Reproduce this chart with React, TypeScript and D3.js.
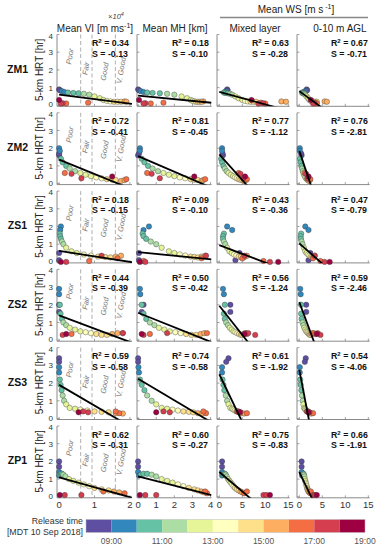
import React from "react";
import * as d3 from "d3";

// release times (hours MDT) shared by every site
const releaseTimes = [8.4, 8.8, 9.2, 9.6, 10.0, 10.4, 10.8, 11.2, 11.6, 12.0, 12.4, 12.8, 13.2, 13.6, 14.0, 14.4, 14.8, 15.2, 15.6, 16.0, 16.6, 17.2, 17.8, 18.4];

const siteNames = ["ZM1", "ZM2", "ZS1", "ZS2", "ZS3", "ZP1"];
const columnTitles = ["Mean VI [m ms", "Mean MH [km]", "Mixed layer", "0-10 m AGL"];

// ZM1
const zm1Hrt = [0.9, 0.85, 0.8, 0.75, 0.72, 0.7, 0.68, 0.65, 0.6, 0.5, 0.4, 0.3, 0.25, 0.22, 0.2, 0.2, 0.2, 0.22, 0.2, 0.15, 0.1, 0.12, 0.1, 0.3];
const zm1Vi = [0, 0.02, 0.08, 0.15, 0.25, 0.4, 0.55, 0.7, 0.85, 1.0, 1.15, 1.25, 1.35, 1.45, 1.55, 1.65, 1.75, 1.85, 1.9, 0.82, 0.2, 0.1, 0.05, 0];
const zm1Mh = [0, 0.05, 0.15, 0.3, 0.5, 0.8, 1.2, 1.6, 2.0, 2.4, 2.7, 2.9, 3.0, 3.1, 3.2, 3.3, 3.4, 3.6, 3.5, 1.4, 0.7, 0.4, 0.3, 0.05];
const zm1WsMl = [1.7, 1.8, 1.5, 1.2, 1.0, 1.3, 1.8, 2.3, 2.8, 3.5, 4.2, 5.0, 5.6, 6.2, 6.8, 7.4, 8.0, 13.5, 14.5, 9.0, 10.0, 9.5, 8.5, 7.0];
const zm1Ws10 = [1.6, 1.7, 1.3, 1.0, 0.6, 0.7, 0.9, 1.1, 1.3, 1.6, 1.9, 2.2, 2.5, 2.8, 3.1, 3.4, 3.8, 5.5, 6.0, 3.5, 3.8, 3.3, 3.0, 2.5];

// ZM2
const zm2Hrt = [1.6, 1.7, 2.0, 1.85, 1.4, 1.2, 1.0, 0.85, 0.7, 0.6, 0.5, 0.42, 0.35, 0.3, 0.25, 0.22, 0.2, 0.15, 0.2, 0.25, 0.6, 0.55, 0.3, 0.4];
const zm2Vi = [0, 0, 0, 0.02, 0.05, 0.1, 0.2, 0.3, 0.45, 0.6, 0.75, 0.9, 1.05, 1.2, 1.35, 1.5, 1.6, 1.75, 1.85, 1.9, 0.16, 0.35, 0.63, 1.5];
const zm2Mh = [0, 0.05, 0.1, 0.1, 0.2, 0.35, 0.55, 0.8, 1.1, 1.4, 1.7, 2.0, 2.3, 2.6, 2.9, 3.1, 3.3, 3.5, 3.6, 3.7, 0.5, 0.75, 1.2, 3.1];
const zm2WsMl = [0.8, 0.7, 0.6, 0.6, 0.4, 0.6, 0.9, 1.2, 1.6, 2.0, 2.5, 3.0, 3.4, 3.8, 4.2, 4.6, 5.0, 5.4, 5.8, 6.0, 4.2, 4.6, 5.2, 5.6];
const zm2Ws10 = [0.5, 0.4, 0.1, 0.1, 0.15, 0.3, 0.45, 0.6, 0.75, 0.9, 1.05, 1.2, 1.35, 1.5, 1.65, 1.8, 1.95, 2.1, 2.3, 2.4, 1.2, 1.5, 1.8, 2.0];

// ZS1
const zs1Hrt = [0.5, 0.1, 2.0, 1.8, 1.6, 1.45, 1.3, 1.15, 1.0, 0.8, 0.6, 0.5, 0.42, 0.36, 0.3, 0.28, 0.25, 0.3, 0.35, 0.2, 0.05, 0.35, 0, 0];
const zs1Vi = [0, 0, 0.05, 0.03, 0.02, 0.03, 0.05, 0.08, 0.12, 0.2, 0.35, 0.5, 0.7, 0.9, 1.1, 1.3, 1.45, 1.6, 1.75, 1.65, 0.85, 1.2, 0.2, 0.05];
const zs1Mh = [0.05, 0.05, 0.6, 0.3, 0.25, 0.3, 0.45, 0.7, 1.0, 1.3, 1.7, 2.0, 2.3, 2.6, 2.9, 3.1, 3.3, 3.5, 3.7, 3.5, 0.3, 3.75, 0.4, 0.1];
const zs1WsMl = [4.4, 3.5, 1.7, 2.8, 1.0, 0.8, 0.8, 1.0, 1.3, 1.7, 2.2, 2.7, 3.2, 3.7, 4.2, 4.7, 5.2, 5.6, 6.0, 5.0, 9.6, 5.5, 11.0, 12.8];
const zs1Ws10 = [2.4, 2.0, 1.3, 2.0, 0.4, 0.3, 0.35, 0.5, 0.7, 1.0, 1.3, 1.6, 1.9, 2.2, 2.5, 2.8, 3.0, 3.2, 3.4, 3.0, 4.6, 3.3, 5.5, 6.6];

// ZS2
const zs2Hrt = [1.6, 2.0, 2.9, 2.6, 2.0, 1.5, 1.2, 1.0, 0.85, 0.7, 0.6, 0.5, 0.45, 0.4, 0.35, 0.3, 0.3, 0.35, 0.4, 0.4, 0.35, 0.4, 0.3, 0.35];
const zs2Vi = [0, 0, 0, 0, 0.02, 0.04, 0.08, 0.12, 0.2, 0.3, 0.45, 0.6, 0.75, 0.9, 1.05, 1.2, 1.35, 1.5, 1.65, 1.8, 0.35, 1.8, 0.1, 0.2];
const zs2Mh = [0.2, 0.3, 0.1, 0.12, 0.2, 0.3, 0.45, 0.65, 0.9, 1.15, 1.45, 1.75, 2.05, 2.35, 2.65, 2.95, 3.2, 3.45, 3.65, 3.8, 0.65, 1.6, 0.3, 0.2];
const zs2WsMl = [2.4, 2.4, 0.8, 1.0, 1.2, 1.0, 1.2, 1.5, 1.9, 2.3, 2.7, 3.1, 3.5, 3.9, 4.3, 4.7, 5.0, 5.3, 5.6, 5.8, 6.0, 6.3, 7.8, 5.5];
const zs2Ws10 = [1.5, 1.5, 0.2, 0.3, 0.4, 0.4, 0.5, 0.7, 0.9, 1.1, 1.3, 1.5, 1.7, 1.9, 2.1, 2.3, 2.5, 2.7, 2.9, 3.1, 3.5, 4.0, 4.6, 3.8];

// ZS3
const zs3Hrt = [3.4, 3.2, 2.9, 2.6, 2.2, 1.9, 1.6, 1.3, 1.0, 0.8, 0.6, 0.55, 0.5, 0.45, 0.4, 0.38, 0.35, 0.3, 0.28, 0.3, 0.4, 0.35, 0.4, 0.35];
const zs3Vi = [0, 0, 0, 0, 0.02, 0.04, 0.07, 0.1, 0.14, 0.2, 0.3, 0.45, 0.6, 0.8, 1.0, 1.2, 1.4, 1.6, 1.8, 1.7, 1.6, 0.82, 0.68, 0.55];
const zs3Mh = [0, 0, 0.02, 0.05, 0.1, 0.2, 0.35, 0.5, 0.75, 1.0, 1.3, 1.6, 1.9, 2.2, 2.5, 2.8, 3.05, 3.3, 3.55, 3.75, 3.6, 1.75, 1.4, 1.0];
const zs3WsMl = [2.0, 1.5, 0.6, 0.6, 0.7, 0.9, 1.1, 1.4, 1.7, 2.0, 2.4, 2.8, 3.1, 3.4, 3.7, 4.0, 4.4, 4.8, 5.4, 6.0, 4.2, 4.6, 3.9, 4.4];
const zs3Ws10 = [1.4, 1.2, 0.1, 0.1, 0.2, 0.3, 0.45, 0.6, 0.75, 0.9, 1.05, 1.2, 1.35, 1.5, 1.65, 1.8, 2.0, 2.3, 2.6, 3.0, 1.9, 2.2, 1.7, 2.0];

// ZP1
const zp1Hrt = [2.0, 1.7, 1.4, 1.2, 1.25, 1.3, 1.3, 1.25, 1.15, 1.0, 0.9, 0.8, 0.7, 0.6, 0.5, 0.42, 0.36, 0.3, 0.25, 0.2, 0.3, 0.1, 0.1, 0.1];
const zp1Vi = [0, 0, 0, 0, 0.02, 0.05, 0.08, 0.12, 0.18, 0.28, 0.4, 0.55, 0.7, 0.85, 1.0, 1.2, 1.4, 1.55, 1.7, 1.85, 1.25, 0.63, 0.16, 0.02];
const zp1Mh = [0, 0, 0, 0.05, 0.15, 0.3, 0.5, 0.75, 1.0, 1.3, 1.6, 1.9, 2.2, 2.5, 2.8, 3.1, 3.3, 3.5, 3.65, 3.8, 3.7, 1.0, 0.4, 0.1];
const zp1WsMl = [0.6, 0.6, 0.6, 0.6, 0.8, 1.0, 1.2, 1.4, 1.6, 1.9, 2.2, 2.5, 2.8, 3.1, 3.4, 3.8, 4.2, 4.6, 5.0, 5.4, 6.0, 9.6, 10.2, 11.0];
const zp1Ws10 = [0.5, 0.5, 0.5, 0.6, 0.7, 0.8, 0.9, 1.0, 1.1, 1.2, 1.3, 1.4, 1.5, 1.6, 1.7, 1.8, 1.9, 2.0, 2.2, 2.4, 2.5, 3.1, 3.4, 3.8];

const hrtBySite = [zm1Hrt, zm2Hrt, zs1Hrt, zs2Hrt, zs3Hrt, zp1Hrt];
const predictorsBySite = [
  [zm1Vi, zm1Mh, zm1WsMl, zm1Ws10],
  [zm2Vi, zm2Mh, zm2WsMl, zm2Ws10],
  [zs1Vi, zs1Mh, zs1WsMl, zs1Ws10],
  [zs2Vi, zs2Mh, zs2WsMl, zs2Ws10],
  [zs3Vi, zs3Mh, zs3WsMl, zs3Ws10],
  [zp1Vi, zp1Mh, zp1WsMl, zp1Ws10],
];

const r2Values = [
  [0.34, 0.18, 0.63, 0.67],
  [0.72, 0.81, 0.77, 0.76],
  [0.18, 0.09, 0.43, 0.47],
  [0.44, 0.5, 0.56, 0.59],
  [0.59, 0.74, 0.61, 0.54],
  [0.62, 0.6, 0.75, 0.66],
];
const sValues = [
  [-0.13, -0.1, -0.28, -0.71],
  [-0.41, -0.45, -1.12, -2.81],
  [-0.15, -0.1, -0.36, -0.79],
  [-0.39, -0.42, -1.24, -2.46],
  [-0.58, -0.58, -1.92, -4.06],
  [-0.31, -0.27, -0.83, -1.91],
];
// fitted line in plot units: intercept, slope
const fitIntercepts = [
  [0.6, 0.55, 0.76, 0.8],
  [1.35, 1.55, 1.65, 1.85],
  [0.62, 0.55, 0.95, 1.05],
  [1.4, 1.55, 1.95, 2.15],
  [1.9, 2.25, 2.5, 2.75],
  [1.1, 1.15, 1.4, 1.4],
];
const fitSlopes = [
  [-0.25, -0.1, -0.071, -0.19],
  [-0.81, -0.44, -0.29, -0.77],
  [-0.31, -0.1, -0.099, -0.23],
  [-0.75, -0.41, -0.33, -0.7],
  [-1.17, -0.61, -0.54, -1.35],
  [-0.56, -0.26, -0.22, -0.54],
];

const viClasses = [0.61, 0.93, 1.59];
const viClassLabels = ["Poor", "Fair", "Good", "V. Good"];
const viLabelX = [0.32, 0.77, 1.3, 1.77];
const viLabelDy = [22, 34, 37, 36];

const colorbarTicks = [9, 11, 13, 15, 17, 19];
const colorbarHours = [8, 9, 10, 11, 12, 13, 14, 15, 16, 17, 18];

const font = "'Liberation Sans', Arial, Helvetica, sans-serif";
const colors = d3.schemeSpectral[11].slice().reverse();
const colorFor = (t: number) => colors[Math.max(0, Math.min(10, Math.floor(t - 8)))];

const colRanges = [[57, 132], [137, 211.5], [217, 289.7], [297, 369.7]];
const colDomains = [[-0.06, 2.06], [-0.06, 4.05], [-0.5, 15.3], [-0.5, 15.3]];
const colTicks = [[0, 1, 2], [0, 1, 2, 3, 4], [0, 5, 10, 15], [0, 5, 10, 15]];
const yTicks = [0, 1, 2, 3, 4];
const rowTop = (i: number) => 34.5 + 78.3 * i;
const rowH = 70.8;
const axisColor = "#8a8a8a";

function Panel({ r, c }: { r: number; c: number }) {
  const top = rowTop(r);
  const bottom = top + rowH;
  const x = d3.scaleLinear().domain(colDomains[c]).range(colRanges[c]);
  const y = d3.scaleLinear().domain([0, 4]).range([bottom, top]);
  const xs = predictorsBySite[r][c];
  const ys = hrtBySite[r];
  const a = fitIntercepts[r][c];
  const b = fitSlopes[r][c];
  const xMax = colDomains[c][1];
  const fit = d3.line<number>().x((v) => x(v)).y((v) => y(a + b * v))([0, xMax]);
  const clipId = `clip-${r}-${c}`;
  const left = colRanges[c][0];
  const right = colRanges[c][1];
  const axisY = bottom + 1;
  const txtX = left + (c === 3 ? 34 : 35);
  return (
    <g>
      <clipPath id={clipId}>
        <rect x={left} y={top} width={right - left} height={axisY - top} />
      </clipPath>
      {c === 0 &&
        viClasses.map((v, i) => (
          <line key={"d" + i} x1={x(v)} x2={x(v)} y1={top} y2={axisY} stroke="#9a9a9a" strokeWidth={0.8} strokeDasharray="4,2.5" />
        ))}
      {c === 0 &&
        viClassLabels.map((lab, i) => (
          <text
            key={"l" + i}
            transform={`translate(${x(viLabelX[i])},${top + viLabelDy[i]}) rotate(-80)`}
            textAnchor="middle"
            dominantBaseline="middle"
            fontSize={7.5}
            fontStyle="italic"
            fill="#777"
            fontFamily={font}
          >
            {lab}
          </text>
        ))}
      <line x1={left} x2={left} y1={top} y2={axisY} stroke={axisColor} strokeWidth={1} />
      <line x1={left} x2={right} y1={axisY} y2={axisY} stroke={axisColor} strokeWidth={1} />
      {yTicks.map((t) => (
        <line key={"yt" + t} x1={left} x2={left + 2.5} y1={y(t)} y2={y(t)} stroke={axisColor} strokeWidth={0.8} />
      ))}
      {colTicks[c].map((t) => (
        <line key={"xt" + t} x1={x(t)} x2={x(t)} y1={axisY} y2={axisY - 2.5} stroke={axisColor} strokeWidth={0.8} />
      ))}
      {xs.map((v, i) => (
        <circle key={i} cx={x(v)} cy={y(ys[i])} r={2.7} fill={colorFor(releaseTimes[i])} stroke="#3a3a3a" strokeWidth={0.4} />
      ))}
      <path d={fit || ""} stroke="#000" strokeWidth={1.8} fill="none" clipPath={`url(#${clipId})`} />
      <text x={txtX} y={top + 11.5} fontSize={8.8} fontWeight="bold" fontFamily={font} fill="#111">
        R<tspan fontSize={6} dy={-3}>2</tspan>
        <tspan dy={3}> = {r2Values[r][c].toFixed(2)}</tspan>
      </text>
      <text x={txtX} y={top + 22} fontSize={8.8} fontWeight="bold" fontFamily={font} fill="#111">
        S = {sValues[r][c].toFixed(2)}
      </text>
      {c === 0 &&
        yTicks.map((t) => (
          <text key={"yl" + t} x={left - 4} y={y(t) + (t === 0 ? 2 : t === 4 ? 4 : 3)} textAnchor="end" fontSize={8} fontFamily={font} fill="#333">
            {t}
          </text>
        ))}
      {r === siteNames.length - 1 &&
        colTicks[c].map((t) => (
          <text key={"xl" + t} x={x(t)} y={axisY + 10} textAnchor="middle" fontSize={9.5} fontFamily={font} fill="#333">
            {t}
          </text>
        ))}
    </g>
  );
}

export default function App() {
  const W = 383;
  const H = 550;
  const cb = d3.scaleLinear().domain([8, 19]).range([86, 365]);
  const titleX = [95, 175, 255, 340];
  return (
    <svg width={W} height={H} style={{ position: "absolute", left: 0, top: 0, background: "#fff" }}>
      {/* header */}
      <text x={116} y={19} fontSize={7.5} fontStyle="italic" fill="#444" fontFamily={font} textAnchor="middle">
        ×10<tspan fontSize={5.5} dy={-3}>4</tspan>
      </text>
      {columnTitles.map((t, i) => (
        <text key={t} x={titleX[i]} y={32} fontSize={10} fill="#222" fontFamily={font} textAnchor="middle">
          {t}
          {i === 0 && (
            <>
              <tspan fontSize={7} dy={-4}>-1</tspan>
              <tspan dy={4}>]</tspan>
            </>
          )}
        </text>
      ))}
      <text x={296} y={13} fontSize={10} fill="#222" fontFamily={font} textAnchor="middle">
        Mean WS [m s<tspan fontSize={7} dy={-4}> -1</tspan>
        <tspan dy={4}>]</tspan>
      </text>
      <line x1={220} x2={368} y1={17.5} y2={17.5} stroke="#888" strokeWidth={1.5} />

      {siteNames.map((s, r) => {
        const mid = rowTop(r) + rowH / 2;
        return (
          <g key={s}>
            <text x={17.5} y={mid} fontSize={10.5} fontWeight="bold" fontFamily={font} textAnchor="middle" dominantBaseline="middle" fill="#111">
              {s}
            </text>
            <text transform={`translate(40,${mid}) rotate(-90)`} fontSize={10} fontFamily={font} textAnchor="middle" dominantBaseline="middle" fill="#222">
              5-km HRT [hr]
            </text>
            {[0, 1, 2, 3].map((c) => (
              <Panel key={c} r={r} c={c} />
            ))}
          </g>
        );
      })}

      {/* colour bar */}
      {colorbarHours.map((h) => (
        <rect key={h} x={cb(h)} y={519.5} width={cb(h + 1) - cb(h)} height={13} fill={colorFor(h + 0.5)} />
      ))}
      <rect x={cb(8)} y={519.5} width={cb(19) - cb(8)} height={13} fill="none" stroke="#bbb" strokeWidth={0.5} />
      {colorbarTicks.map((t) => (
        <text key={t} x={cb(t)} y={544} fontSize={8.5} fill="#555" fontFamily={font} textAnchor="middle">
          {String(t).padStart(2, "0")}:00
        </text>
      ))}
      <text x={83} y={524} fontSize={8.8} fill="#333" fontFamily={font} textAnchor="end">
        Release time
      </text>
      <text x={83} y={534.5} fontSize={8.8} fill="#333" fontFamily={font} textAnchor="end">
        [MDT 10 Sep 2018]
      </text>
    </svg>
  );
}
